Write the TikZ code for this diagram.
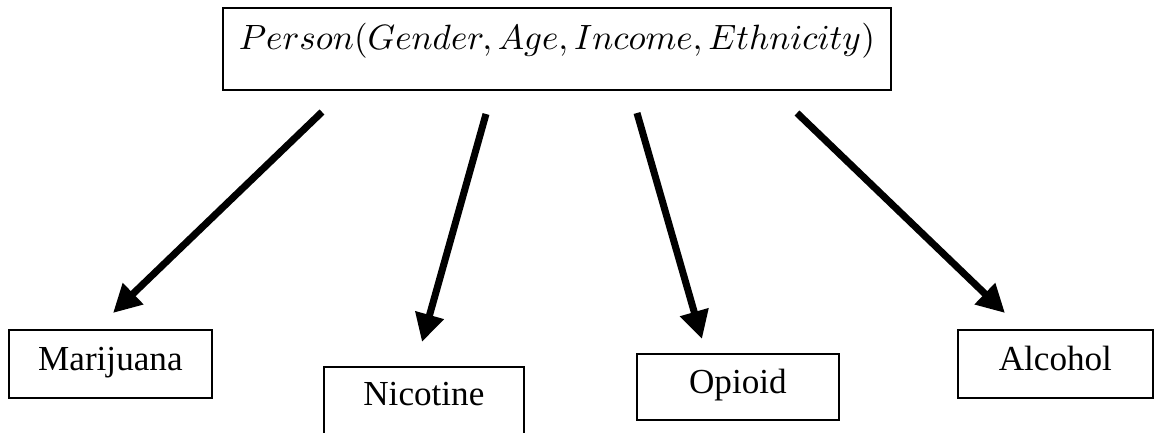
\documentclass[tikz,border=0pt]{standalone}
\usepackage{amsmath}
\usepackage{fontspec}
\setmainfont{Liberation Serif}
\usetikzlibrary{arrows.meta}

\begin{document}
\begin{tikzpicture}[
		box/.style={draw,line width=0.5pt,anchor=north west,inner xsep=0pt,inner ysep=0pt,font=\fontsize{10}{12}\selectfont},
		arr/.style={line width=2pt,-{Triangle[length=0.28cm,width=0.28cm]}}]
			\useasboundingbox (0,0) rectangle (11.54,4.32);
			\node[box,minimum width=6.68cm,text height=0.42cm,text depth=0.40cm] (person) at (2.22,4.25) {$Person(Gender,Age,Income,Ethnicity)$};
			\node[box,minimum width=2.03cm,text height=0.41cm,text depth=0.27cm] (mar) at (0.08,1.03) {Marijuana};
			\node[box,minimum width=2.00cm,text height=0.39cm,text depth=0.29cm] (nic) at (3.23,0.66) {Nicotine};
			\node[box,minimum width=2.02cm,text height=0.40cm,text depth=0.26cm] (opi) at (6.36,0.79) {Opioid};
			\node[box,minimum width=1.95cm,text height=0.41cm,text depth=0.27cm] (alc) at (9.57,1.03) {Alcohol};
			\coordinate (P1) at (3.22,3.20);
			\coordinate (P2) at (4.86,3.18);
			\coordinate (P3) at (6.37,3.19);
			\coordinate (P4) at (7.97,3.19);
			\coordinate (M) at (1.13,1.19);
			\coordinate (N) at (4.22,0.90);
			\coordinate (O) at (7.02,0.93);
			\coordinate (A) at (10.05,1.19);
			\draw[arr] (P1) -- (M);
			\draw[arr] (P2) -- (N);
			\draw[arr] (P3) -- (O);
			\draw[arr] (P4) -- (A);
\end{tikzpicture}
\end{document}
